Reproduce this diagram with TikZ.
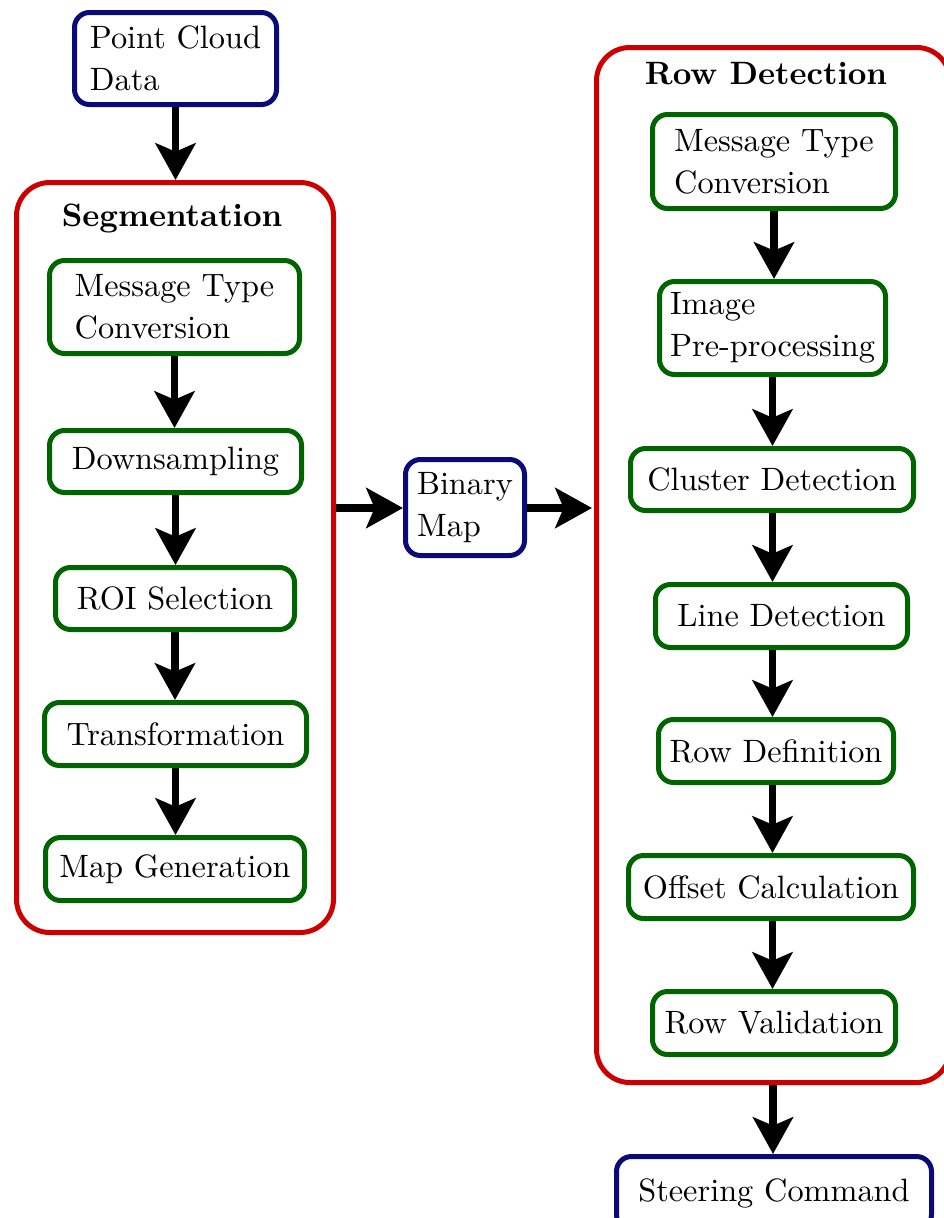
\documentclass[tikz,border=0pt]{standalone}
\usetikzlibrary{arrows.meta}
\definecolor{navyc}{RGB}{10,10,120}
\definecolor{greenc}{RGB}{0,100,0}
\definecolor{redc}{RGB}{204,0,0}
\tikzset{
 base/.style={draw, line width=1.5pt, rounded corners=4.5pt, inner sep=0pt, align=left, fill=white,
   font=\fontsize{9.7pt}{12.6pt}\selectfont},
 gbox/.style={base, draw=greenc},
 bbox/.style={base, draw=navyc},
 rbox/.style={draw=redc, line width=1.5pt, rounded corners=10pt},
 ttl/.style={font=\fontsize{9.7pt}{12.6pt}\selectfont\bfseries},
 arr/.style={-{Stealth[length=11pt,width=12pt,inset=2.5pt]}, line width=2.2pt},
}
\newcommand{\bx}[7]{\node[#6, minimum width={(#4-#2-5)*0.3pt}, minimum height={(#5-#3-5)*0.3pt}] (#1) at ({(#2+#4)/2},{(#3+#5)/2}) {#7};}
\begin{document}
\begin{tikzpicture}[x=0.3pt,y=-0.3pt]
\useasboundingbox (0,0) rectangle (944,1218);
\clip (0,0) rectangle (944,1218);
% containers
\draw[rbox] (16.5,182.5) rectangle (333.5,932.5);
\draw[rbox] (596.5,47.5) rectangle (950,1082.5);
\node[ttl] (segt) at (172,218) {Segmentation};
\node[ttl] (rowt) at (766,74) {Row Detection};
% input
\bx{pcd}{72}{10}{279}{107}{bbox}{Point Cloud\\Data}
% segmentation
\bx{s1}{47}{258}{302}{356}{gbox}{Message Type\\Conversion}
\bx{s2}{47}{428}{304}{495}{gbox}{Downsampling}
\bx{s3}{53}{565}{297}{632}{gbox}{ROI Selection}
\bx{s4}{42}{700}{309}{768}{gbox}{Transformation}
\bx{s5}{43}{835}{307}{903}{gbox}{Map Generation}
% binary map
\bx{bm}{403}{457}{527}{558}{bbox}{Binary\\Map}
% row detection
\bx{r1}{650}{112}{898}{211}{gbox}{Message Type\\Conversion}
\bx{r2}{657}{279}{888}{377}{gbox}{Image\\Pre-processing}
\bx{r3}{628}{446}{916}{513}{gbox}{Cluster Detection}
\bx{r4}{653}{582}{910}{650}{gbox}{Line Detection}
\bx{r5}{656}{717}{896}{785}{gbox}{Row Definition}
\bx{r6}{626}{853}{916}{921}{gbox}{Offset Calculation}
\bx{r7}{650}{989}{898}{1057}{gbox}{Row Validation}
% output
\bx{sc}{614}{1154}{934}{1232}{bbox}{Steering Command}
% anchors for container edges
\coordinate (segtop) at (175,180);
\coordinate (segright) at (336,508);
\coordinate (rowleft) at (592,508);
\coordinate (rowbot) at (773,1085);
% arrows
\draw[arr] (pcd.south) -- (pcd.south |- segtop);
\draw[arr] (s1.south) -- (s1.south |- s2.north);
\draw[arr] (s2.south) -- (s2.south |- s3.north);
\draw[arr] (s3.south) -- (s3.south |- s4.north);
\draw[arr] (s4.south) -- (s4.south |- s5.north);
\draw[arr] (segright) -- (segright -| bm.west);
\draw[arr] (bm.east |- segright) -- (rowleft);
\draw[arr] (r1.south) -- (r1.south |- r2.north);
\draw[arr] (r2.south) -- (r2.south |- r3.north);
\draw[arr] (r3.south -| r2.south) -- (r2.south |- r4.north);
\draw[arr] (r4.south -| r2.south) -- (r2.south |- r5.north);
\draw[arr] (r5.south -| r2.south) -- (r2.south |- r6.north);
\draw[arr] (r6.south -| r2.south) -- (r2.south |- r7.north);
\draw[arr] (rowbot) -- (rowbot |- sc.north);
\end{tikzpicture}
\end{document}
